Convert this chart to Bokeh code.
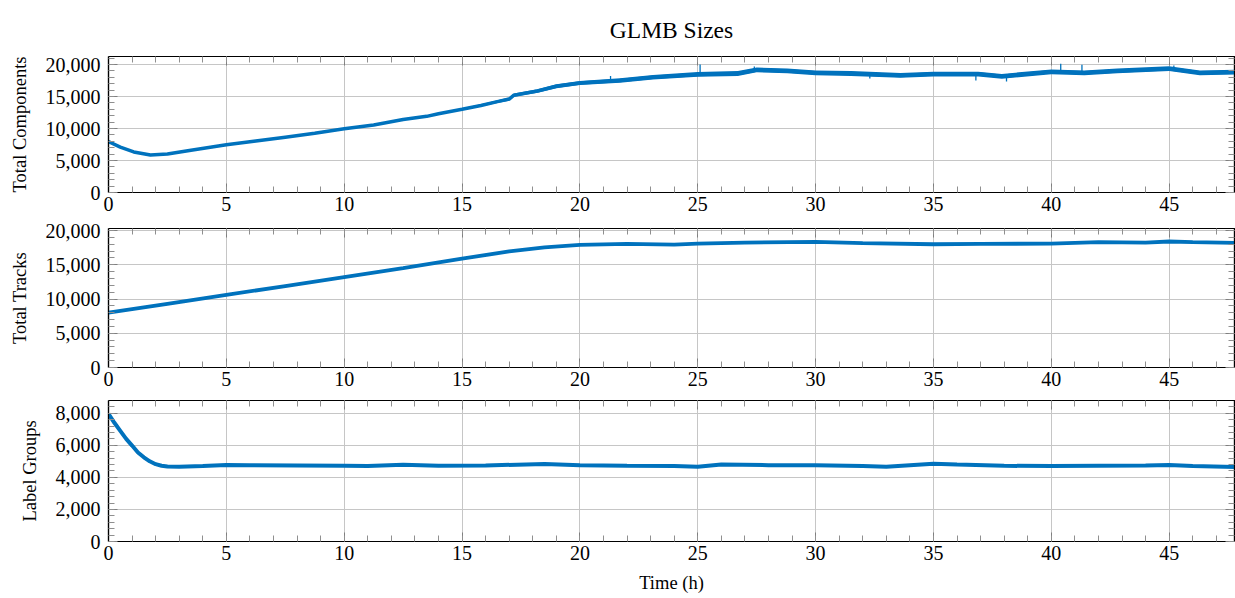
from bokeh.plotting import figure
from bokeh.models import (SingleIntervalTicker, NumeralTickFormatter, LinearAxis,
                          Range1d, CustomJSTickFormatter)
from bokeh.layouts import column
from bokeh.embed import file_html
from bokeh.resources import INLINE

# ---------------- data ----------------
title_text = "GLMB Sizes"
x_label = "Time (h)"

# Total Components
time_c = [0, 0.5, 1.07, 1.78, 2.5, 3.5, 5, 6.25, 7.5, 8.75, 10, 11.25, 12.5, 13.5, 14,
          15, 15.8, 16.5, 17.0, 17.2, 18.2, 19.0, 20.0, 21.7, 23.1, 25.0, 26.7, 27.5,
          28.8, 30.0, 31.5, 33.6, 35.0, 36.9, 37.9, 40.0, 41.4, 42.8, 45.0, 46.3, 47.8]
comp = [7950, 7100, 6340, 5850, 6000, 6600, 7450, 8050, 8650, 9250, 9950, 10550, 11400,
        11900, 12300, 13000, 13600, 14200, 14600, 15200, 15850, 16600, 17100, 17500,
        18000, 18450, 18600, 19150, 19000, 18700, 18600, 18300, 18500, 18500, 18150,
        18850, 18700, 19000, 19350, 18700, 18800]
# visible noise half-width around the curve
comp_noise = [0, 0, 0, 0, 0, 0, 0, 0, 0, 0, 0, 0, 0, 50, 80,
              150, 180, 220, 250, 250, 280, 300, 320, 350, 350, 380, 380, 380,
              380, 380, 380, 380, 380, 380, 380, 380, 380, 380, 380, 380, 380]
# isolated spikes / dips
spike_t = [21.3, 25.1, 27.4, 32.3, 36.8, 38.1, 40.4, 41.3, 45.2]
spike_lo = [17400, 18450, 19150, 18400, 18500, 18200, 18850, 18700, 19350]
spike_hi = [18200, 20000, 19700, 17800, 17500, 17350, 20100, 19950, 19850]

# Total Tracks
time_t = [0, 2.5, 5, 7.5, 10, 12.5, 15, 17, 18.5, 20, 22, 24, 25, 27, 30, 32, 35, 37,
          40, 42, 44, 45, 46, 47.8]
tracks = [8000, 9300, 10600, 11900, 13200, 14500, 15900, 16950, 17550, 17900, 18050,
          17950, 18100, 18250, 18350, 18150, 18000, 18050, 18100, 18300, 18250, 18400,
          18300, 18200]

# Label Groups
time_g = [0, 0.25, 0.5, 0.75, 1.0, 1.25, 1.5, 1.75, 2.0, 2.25, 2.5, 3, 4, 5, 6, 8, 10,
          11, 12.5, 14, 16, 18.5, 20, 22, 24, 25, 26, 28, 30, 32, 33, 35, 36, 38, 40,
          42, 44, 45, 46, 47.8]
groups = [7950, 7400, 6900, 6400, 5980, 5550, 5250, 5000, 4820, 4720, 4670, 4660, 4700,
          4770, 4760, 4740, 4720, 4700, 4790, 4720, 4740, 4830, 4760, 4720, 4700, 4660,
          4800, 4760, 4760, 4700, 4660, 4850, 4800, 4720, 4700, 4730, 4740, 4770, 4700,
          4650]

# ---------------- styling ----------------
FONT = "Liberation Serif"
BLUE = "#0072BD"
FIG_W = 1235
BORDER_L = 108
BORDER_R = 1
PX_PER_H = 23.57
X_END = (FIG_W - BORDER_L - BORDER_R) / PX_PER_H


def style_axis(ax, ticker, show_labels=True):
    ax.ticker = ticker
    ax.axis_line_color = "black"
    ax.axis_line_width = 1.2
    ax.major_tick_in = 9
    ax.major_tick_out = 0
    ax.minor_tick_in = 6
    ax.minor_tick_out = 0
    ax.major_tick_line_color = "#7f7f7f"
    ax.minor_tick_line_color = "#8f8f8f"
    ax.major_label_text_font = FONT
    ax.axis_label_text_font = FONT
    ax.axis_label_text_font_style = "normal"
    ax.axis_label_text_font_size = "18.5px"
    ax.axis_label_text_color = "black"
    ax.major_label_text_color = "black"
    if show_labels:
        ax.major_label_text_font_size = "20px"
    else:
        ax.major_label_text_font_size = "0px"
        ax.major_label_standoff = 0
        ax.formatter = CustomJSTickFormatter(code="return ''")


def make_fig(height, top, bottom, y_end, y_step, y_label, with_x_label=False, title=None):
    kw = {}
    if title is not None:
        kw["title"] = title
    p = figure(width=FIG_W, height=height, output_backend="svg", toolbar_location=None,
               x_range=Range1d(0, X_END), y_range=Range1d(0, y_end),
               min_border_left=BORDER_L, min_border_right=BORDER_R,
               min_border_top=top, min_border_bottom=bottom, **kw)
    p.background_fill_color = "white"
    p.border_fill_color = "white"
    p.outline_line_color = "black"
    p.outline_line_width = 1.2

    xt = SingleIntervalTicker(interval=5, num_minor_ticks=5)
    yt = SingleIntervalTicker(interval=y_step, num_minor_ticks=5)

    xa = p.xaxis[0]
    ya = p.yaxis[0]
    style_axis(xa, xt)
    style_axis(ya, yt)
    xa.major_label_standoff = 4
    ya.major_label_standoff = 8
    ya.formatter = NumeralTickFormatter(format="0,0")
    ya.axis_label = y_label
    ya.axis_label_standoff = 13
    if with_x_label:
        xa.axis_label = x_label
        xa.axis_label_standoff = 10

    top_ax = LinearAxis()
    right_ax = LinearAxis()
    style_axis(top_ax, xt, show_labels=False)
    style_axis(right_ax, yt, show_labels=False)
    p.add_layout(top_ax, "above")
    p.add_layout(right_ax, "right")

    p.xgrid.ticker = xt
    p.ygrid.ticker = yt
    p.grid.grid_line_color = "#c6c6c6"
    p.grid.grid_line_width = 1

    if title is not None:
        p.title.text_font = FONT
        p.title.text_font_size = "23.5px"
        p.title.text_font_style = "normal"
        p.title.text_color = "black"
        p.title.align = "center"
        p.title.standoff = 28
    return p


p1 = make_fig(218, 52, 26, 21250, 5000, "Total Components", title=title_text)
lo = [v - n for v, n in zip(comp, comp_noise)]
hi = [v + n for v, n in zip(comp, comp_noise)]
p1.varea(x=time_c, y1=lo, y2=hi, fill_color=BLUE)
p1.line(time_c, comp, line_color=BLUE, line_width=3.5)
p1.segment(x0=spike_t, y0=spike_lo, x1=spike_t, y1=spike_hi, line_color=BLUE, line_width=1.3)

p2 = make_fig(175, 10, 26, 20300, 5000, "Total Tracks")
p2.line(time_t, tracks, line_color=BLUE, line_width=3.8)

p3 = make_fig(205, 7, 57, 8790, 2000, "Label Groups", with_x_label=True)
p3.line(time_g, groups, line_color=BLUE, line_width=4)

layout = column(p1, p2, p3)
open("out.html", "w").write(file_html(layout, INLINE))
